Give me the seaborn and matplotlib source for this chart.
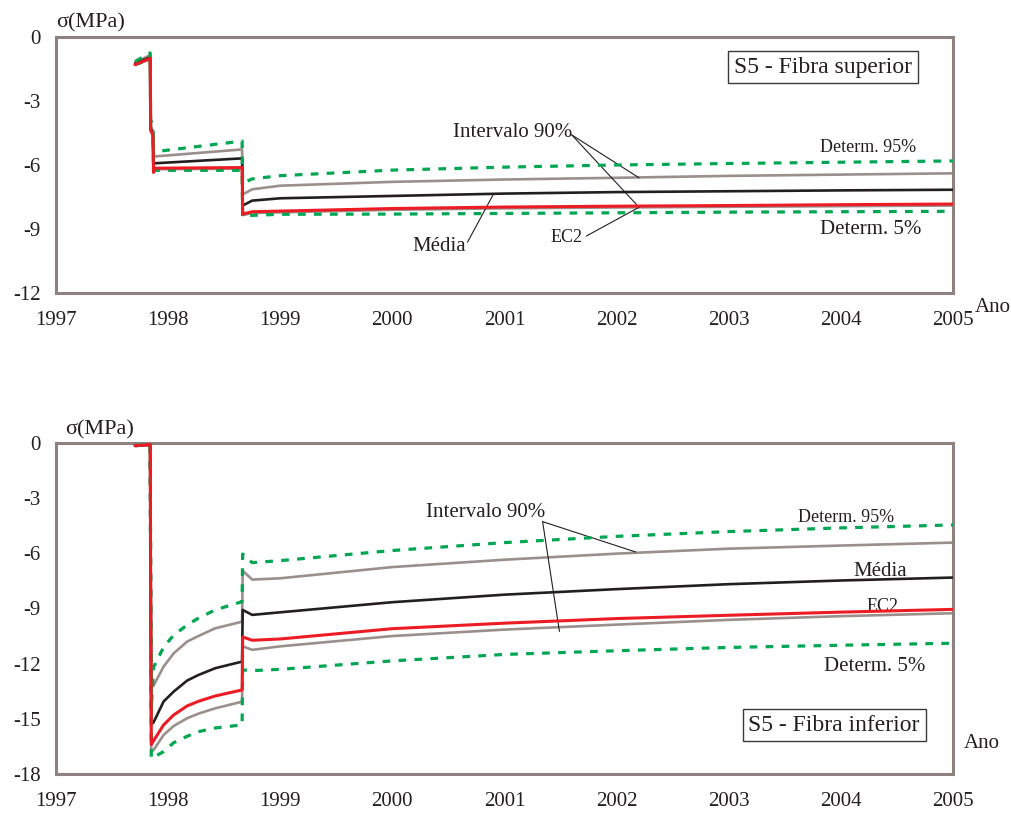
# %% ---- Requirements and constants
import matplotlib
matplotlib.use('Agg')
import matplotlib.pyplot as plt
import seaborn as sns


# %% ---- Data
# S5 - Fibra superior
anos_sup = [1997.705, 1997.84, 1997.845, 1997.865, 1997.87, 1997.88, 1998.66, 1998.665,
            1998.75, 1999.0, 2000.0, 2001.0, 2002.0, 2003.0, 2004.0, 2005.0]
sup_det95 = [-1.15, -0.75, -3.9, -4.1, -5.45, -5.38, -4.88, -6.85,
             -6.65, -6.5, -6.24, -6.1, -6.0, -5.93, -5.87, -5.81]
sup_int_hi = [-1.2, -0.85, -4.2, -4.4, -5.65, -5.6, -5.27, -7.38,
              -7.14, -6.97, -6.79, -6.68, -6.6, -6.51, -6.45, -6.39]
sup_media = [-1.25, -0.95, -4.3, -4.5, -5.95, -5.92, -5.69, -7.9,
             -7.67, -7.56, -7.45, -7.34, -7.27, -7.23, -7.19, -7.16]
sup_ec2 = [-1.3, -1.0, -4.36, -4.6, -6.35, -6.15, -6.12, -8.3,
           -8.19, -8.16, -8.04, -7.97, -7.93, -7.9, -7.86, -7.83]
sup_int_lo = [-1.3, -1.05, -4.4, -4.6, -6.3, -6.2, -6.17, -8.35,
              -8.25, -8.22, -8.1, -8.03, -7.99, -7.96, -7.93, -7.9]
sup_det5 = [-1.3, -1.05, -4.45, -4.65, -6.3, -6.25, -6.25, -8.42,
            -8.36, -8.31, -8.3, -8.27, -8.24, -8.21, -8.19, -8.17]

# S5 - Fibra inferior
anos_inf = [1997.705, 1997.84, 1997.85, 1997.87, 1997.96, 1998.05, 1998.17, 1998.27, 1998.42,
            1998.66, 1998.665, 1998.75, 1999.0, 2000.0, 2001.0, 2002.0, 2003.0, 2004.0, 2005.0]
inf_det95 = [-0.15, -0.1, -14.5, -12.2, -11.1, -10.45, -9.9, -9.53, -9.08,
             -8.63, -6.04, -6.51, -6.4, -5.85, -5.42, -5.08, -4.82, -4.62, -4.46]
inf_int_hi = [-0.15, -0.1, -13.3, -13.2, -12.16, -11.44, -10.8, -10.5, -10.08,
              -9.72, -6.95, -7.43, -7.36, -6.75, -6.35, -6.02, -5.75, -5.58, -5.42]
inf_media = [-0.15, -0.1, -15.3, -15.2, -14.06, -13.52, -12.92, -12.62, -12.25,
             -11.89, -9.08, -9.35, -9.21, -8.66, -8.25, -7.95, -7.68, -7.48, -7.32]
inf_ec2 = [-0.15, -0.1, -16.4, -16.2, -15.33, -14.79, -14.3, -14.05, -13.76,
           -13.43, -10.55, -10.73, -10.66, -10.1, -9.8, -9.55, -9.37, -9.2, -9.05]
inf_int_lo = [-0.15, -0.1, -16.8, -16.7, -15.88, -15.39, -14.97, -14.72, -14.43,
              -14.07, -11.06, -11.25, -11.06, -10.5, -10.15, -9.88, -9.62, -9.42, -9.26]
inf_det5 = [-0.15, -0.1, -17.15, -17.1, -16.78, -16.3, -15.95, -15.7, -15.5,
            -15.33, -12.34, -12.38, -12.31, -11.85, -11.5, -11.3, -11.12, -11.0, -10.89]

anos_ticks = [1997, 1998, 1999, 2000, 2001, 2002, 2003, 2004, 2005]
sup_yticks = [-12, -9, -6, -3, 0]
inf_yticks = [-18, -15, -12, -9, -6, -3, 0]


# %% ---- Style
sns.set_style('white')
plt.rcParams['font.family'] = ['Liberation Serif', 'DejaVu Serif']

FRAME = '#8d8280'
GRAY = '#9b8f8c'
BLACK = '#231f20'
RED = '#ed1c24'
GREEN = '#00a650'
TXT = '#231f20'


def draw_panel(ax, anos, det95, int_hi, media, ec2, int_lo, det5, yticks):
    sns.lineplot(x=anos, y=int_hi, ax=ax, color=GRAY, lw=1.9, zorder=2)
    sns.lineplot(x=anos, y=int_lo, ax=ax, color=GRAY, lw=1.9, zorder=2)
    sns.lineplot(x=anos, y=media, ax=ax, color=BLACK, lw=1.9, zorder=3)
    for serie in (det95, det5):
        sns.lineplot(x=anos, y=serie, ax=ax, color=GREEN, lw=2.3,
                     linestyle=(0, (2.4, 2.6)), zorder=4)
    sns.lineplot(x=anos, y=ec2, ax=ax, color=RED, lw=2.2, zorder=5)

    ax.set_xlim(1997, 2005)
    ax.set_ylim(yticks[0], yticks[-1])
    ax.set_xticks(anos_ticks)
    ax.set_xticklabels([str(a) for a in anos_ticks])
    ax.set_yticks(yticks)
    ax.set_yticklabels([str(v) for v in yticks])  # plain hyphen, as in the original
    ax.tick_params(axis='both', direction='in', length=6, width=2, color=FRAME,
                   labelsize=15, labelcolor=TXT)
    ax.tick_params(axis='x', pad=13)
    ax.tick_params(axis='y', pad=11)
    for sp in ax.spines.values():
        sp.set_visible(True)
        sp.set_color(FRAME)
        sp.set_linewidth(2.2)
    ax.set_xlabel('')
    ax.set_ylabel('')


def leader(ax, xy_from, xy_to):
    ax.annotate('', xy=xy_to, xytext=xy_from,
                arrowprops=dict(arrowstyle='-', color=TXT, lw=0.8, shrinkA=0, shrinkB=0))


# %% ---- Figure
fig = plt.figure(figsize=(10.12, 8.16), dpi=100)
ax1 = fig.add_axes([0.0553, 0.6409, 0.8864, 0.3138])
ax2 = fig.add_axes([0.0553, 0.0515, 0.8864, 0.4057])

draw_panel(ax1, anos_sup, sup_det95, sup_int_hi, sup_media, sup_ec2, sup_int_lo, sup_det5, sup_yticks)
draw_panel(ax2, anos_inf, inf_det95, inf_int_hi, inf_media, inf_ec2, inf_int_lo, inf_det5, inf_yticks)

# top panel texts
ax1.text(2001.07, -4.5, 'Intervalo 90%', fontsize=15, color=TXT, ha='center', va='center')
leader(ax1, (2001.6, -4.59), (2002.2, -6.6))
leader(ax1, (2001.6, -4.59), (2002.2, -7.98))
ax1.text(2000.42, -9.8, 'Média', fontsize=15, color=TXT, ha='center', va='center')
leader(ax1, (2000.67, -9.62), (2000.9, -7.38))
ax1.text(2001.55, -9.42, 'EC2', fontsize=13, color=TXT, ha='center', va='center')
leader(ax1, (2001.73, -9.33), (2002.2, -7.98))
ax1.text(2004.24, -5.2, 'Determ. 95%', fontsize=13, color=TXT, ha='center', va='center')
ax1.text(2004.27, -9.0, 'Determ. 5%', fontsize=15, color=TXT, ha='center', va='center')
ax1.text(2003.84, -1.41, 'S5 - Fibra superior', fontsize=17, color=TXT, ha='center', va='center',
         bbox=dict(boxstyle='square,pad=0.25', fc='white', ec='#3a3a3a', lw=1))

# bottom panel texts
ax2.text(2000.83, -3.81, 'Intervalo 90%', fontsize=15, color=TXT, ha='center', va='center')
leader(ax2, (2001.34, -4.28), (2002.17, -5.93))
leader(ax2, (2001.34, -4.28), (2001.49, -10.25))
ax2.text(2004.35, -7.0, 'Média', fontsize=15, color=TXT, ha='center', va='center')
ax2.text(2004.37, -8.9, 'EC2', fontsize=13, color=TXT, ha='center', va='center')
ax2.text(2004.05, -4.08, 'Determ. 95%', fontsize=13, color=TXT, ha='center', va='center')
ax2.text(2004.3, -12.16, 'Determ. 5%', fontsize=15, color=TXT, ha='center', va='center')
ax2.text(2003.94, -15.34, 'S5 - Fibra inferior', fontsize=17, color=TXT, ha='center', va='center',
         bbox=dict(boxstyle='square,pad=0.25', fc='white', ec='#3a3a3a', lw=1))

# axis titles
fig.text(90.5 / 1012, 1 - 23 / 816, 'σ(MPa)', fontsize=16, color=TXT, ha='center', va='center')
fig.text(100 / 1012, 1 - 430 / 816, 'σ(MPa)', fontsize=16, color=TXT, ha='center', va='center')
fig.text(993 / 1012, 1 - 307 / 816, 'Ano', fontsize=15, color=TXT, ha='center', va='center')
fig.text(981.5 / 1012, 1 - 743 / 816, 'Ano', fontsize=15, color=TXT, ha='center', va='center')

fig.savefig('out.png', dpi=100)
